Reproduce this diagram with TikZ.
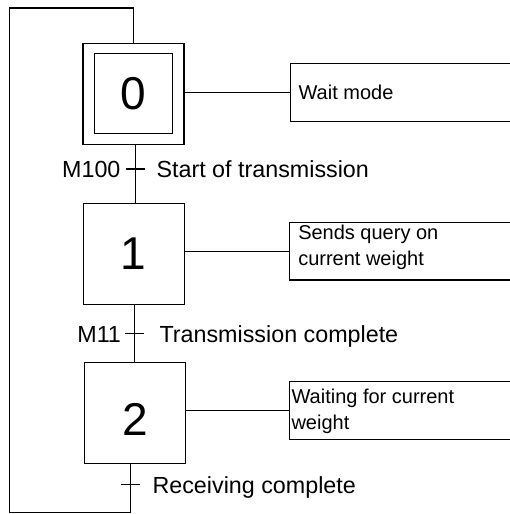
\documentclass[tikz,border=0pt]{standalone}
\usepackage{fontspec}
\setmainfont{Liberation Sans}
\begin{document}
\begin{tikzpicture}[x=1pt,y=-1pt,line width=1.1pt,
  stepbox/.style={draw,minimum width=101pt,minimum height=101pt,inner sep=0pt,font=\fontsize{46}{46}\selectfont},
  innerbox/.style={draw,minimum width=78.4pt,minimum height=80pt,inner sep=0pt,font=\fontsize{46}{46}\selectfont},
  actbox/.style={draw,anchor=west,minimum width=230pt,inner sep=0pt},
  acttext/.style={inner sep=0pt,align=left,font=\fontsize{20}{26}\selectfont},
  trlabel/.style={inner sep=0pt,font=\fontsize{23.3}{28}\selectfont}]
\useasboundingbox (0,0) rectangle (510,514);

% steps
\node[stepbox] (s0) at (133.5,93.8) {};
\node[innerbox] (s0i) at (133.5,93.3) {0};
\node[stepbox] (s1) at (133.7,253.8) {1};
\node[stepbox,text height=45pt,text depth=0pt] (s2) at (135,413) {2};

% action boxes (open to the right)
\node[actbox,minimum height=58.4pt] (a0) at (290,92.5) {};
\node[actbox,minimum height=57.3pt] (a1) at (289.3,251.3) {};
\node[actbox,minimum height=57.6pt] (a2) at (289.3,410.5) {};
\node[acttext,anchor=base west] (a0t) at (298,99.3) {Wait mode};
\node[acttext,anchor=north west] (a1t) at (297.7,224.8) {Sends query on\\current weight};
\node[acttext,anchor=north west] (a2t) at (291,388.7) {Waiting for current\\weight};

\draw (s0.east |- a0.west) -- (a0.west);
\draw (s1.east |- a1.west) -- (a1.west);
\draw (s2.east |- a2.west) -- (a2.west);

% transitions
\coordinate (t1) at (135.5,169);
\coordinate (t2) at (134.5,333.5);
\coordinate (t3) at (130.7,484.5);
\draw (s0.south -| t1) -- (s1.north -| t1);
\draw (s1.south -| t2) -- (s2.north -| t2);
\draw ([shift={(-9.5,0)}]t1) -- ([shift={(9.5,0)}]t1);
\draw ([shift={(-9.5,0)}]t2) -- ([shift={(9.5,0)}]t2);
\draw ([shift={(-9.5,0)}]t3) -- ([shift={(9.5,0)}]t3);

\node[trlabel,anchor=base east] (l1a) at (121,177) {M100};
\node[trlabel,anchor=base west] (l1b) at (156,177) {Start of transmission};
\node[trlabel,anchor=base east] (l2a) at (121.5,342) {M11};
\node[trlabel,anchor=base west] (l2b) at (159,342) {Transmission complete};
\node[trlabel,anchor=base west] (l3b) at (152,493.5) {Receiving complete};

% return loop
\coordinate (top) at (133.3,8);
\coordinate (lt) at (9.5,8);
\coordinate (lb) at (9.5,512.5);
\draw (s0.north -| top) -- (top) -- (lt) -- (lb) -- (lb -| t3) -- (s2.south -| t3);
\end{tikzpicture}
\end{document}
